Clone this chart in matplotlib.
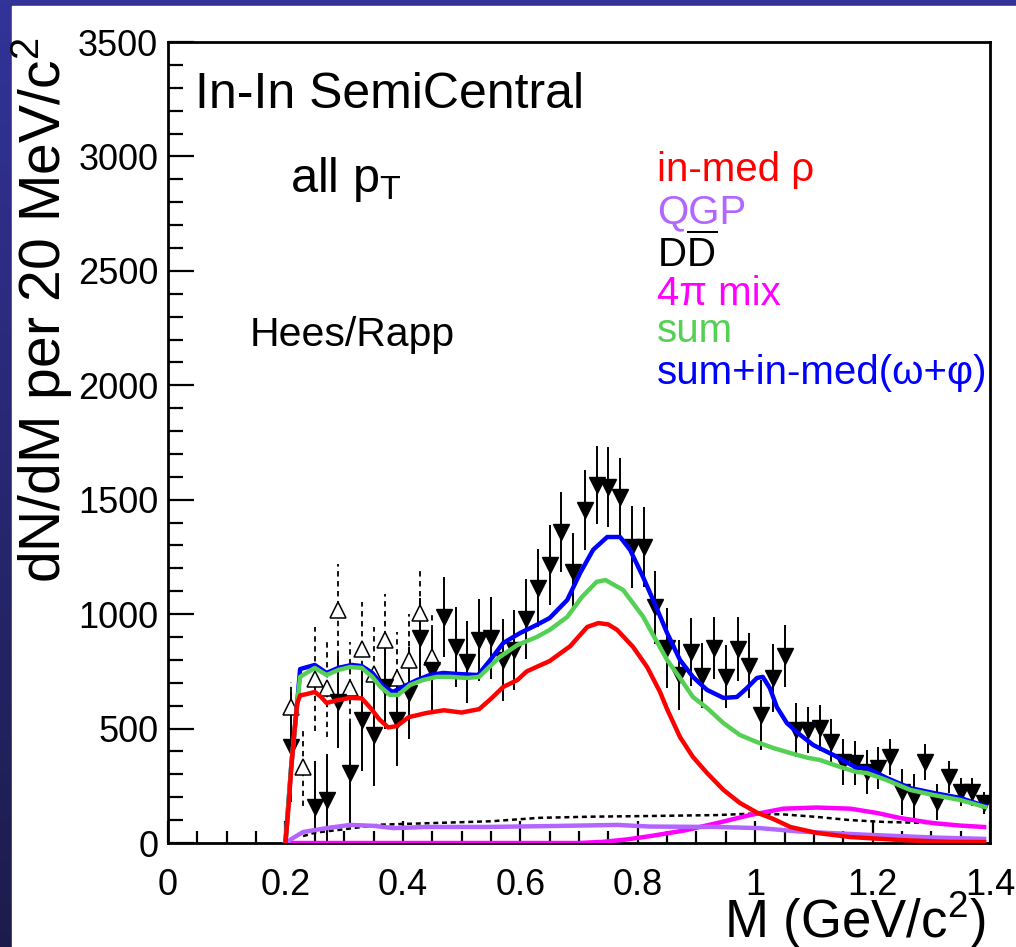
import numpy as np
import matplotlib
matplotlib.use('Agg')
import matplotlib.pyplot as plt
from matplotlib.patches import Rectangle
from matplotlib.colors import LinearSegmentedColormap
from matplotlib.ticker import MultipleLocator, FixedLocator

plt.rcParams['font.family'] = ['Liberation Sans', 'DejaVu Sans']
plt.rcParams['mathtext.fontset'] = 'custom'
plt.rcParams['mathtext.rm'] = 'Liberation Sans'
plt.rcParams['mathtext.it'] = 'Liberation Sans:italic'
plt.rcParams['mathtext.bf'] = 'Liberation Sans:bold'

# NA60 data (filled triangles, solid errors)
data_m = [0.21, 0.25, 0.27, 0.29, 0.31, 0.33, 0.35, 0.37, 0.39, 0.41, 0.43, 0.45, 0.47, 0.49,
          0.51, 0.53, 0.55, 0.57, 0.59, 0.61, 0.63, 0.65, 0.67, 0.69, 0.71, 0.73, 0.75, 0.77,
          0.79, 0.81, 0.83, 0.85, 0.87, 0.89, 0.91, 0.93, 0.95, 0.97, 0.99, 1.01, 1.03, 1.05,
          1.07, 1.09, 1.11, 1.13, 1.15, 1.17, 1.19, 1.21, 1.23, 1.25, 1.27, 1.29, 1.31, 1.33,
          1.35, 1.37, 1.39]
data_v = [420, 157, 188, 616, 306, 538, 472, 682, 538, 656, 896, 756, 988, 857,
          790, 887, 896, 800, 843, 979, 1114, 1215, 1359, 1184, 1455, 1565, 1556, 1512,
          1294, 1294, 1030, 852, 734, 835, 730, 852, 726, 848, 774, 559, 721, 817,
          494, 494, 503, 441, 354, 350, 310, 328, 376, 223, 201, 354, 179, 288,
          223, 223, 175]
data_e = [240, 200, 200, 200, 220, 225, 225, 185, 200, 200, 175, 175, 175, 175,
          180, 180, 180, 180, 175, 175, 170, 175, 175, 170, 175, 170, 175, 170,
          180, 175, 160, 175, 153, 149, 142, 135, 138, 138, 142, 153, 149, 135,
          117, 102, 102, 102, 102, 95, 95, 90, 80, 100, 100, 80, 80, 70,
          60, 60, 50]

# open triangles (dashed errors)
open_m = [0.21, 0.23, 0.25, 0.27, 0.29, 0.31, 0.33, 0.35, 0.37, 0.39, 0.41, 0.43, 0.45]
open_v = [594, 330, 717, 677, 1018, 677, 848, 738, 887, 721, 800, 1005, 813]
open_e = [110, 170, 227, 215, 200, 200, 205, 205, 200, 200, 200, 190, 190]

# in-medium rho
red_m = [0.200, 0.205, 0.210, 0.215, 0.220, 0.225, 0.235, 0.250, 0.260, 0.270, 0.290, 0.310,
         0.330, 0.345, 0.360, 0.375, 0.390, 0.410, 0.440, 0.470, 0.500, 0.530, 0.550, 0.571,
         0.595, 0.611, 0.650, 0.685, 0.714, 0.733, 0.750, 0.765, 0.792, 0.816, 0.838, 0.850,
         0.872, 0.894, 0.918, 0.946, 0.974, 1.003, 1.031, 1.060, 1.105, 1.162, 1.247, 1.330, 1.390]
red_v = [0, 150, 330, 480, 610, 645, 650, 660, 640, 612, 625, 634,
         632, 590, 540, 505, 511, 550, 568, 580, 570, 585, 630, 682,
         712, 750, 795, 860, 944, 961, 955, 931, 857, 769, 660, 585,
         463, 376, 306, 232, 175, 133, 105, 70, 44, 26, 13, 5, 4]

# sum
green_m = [0.200, 0.210, 0.220, 0.225, 0.250, 0.270, 0.290, 0.310, 0.330, 0.348, 0.362, 0.378,
           0.392, 0.412, 0.434, 0.458, 0.480, 0.510, 0.530, 0.565, 0.595, 0.628, 0.650, 0.680,
           0.705, 0.730, 0.745, 0.775, 0.809, 0.826, 0.850, 0.872, 0.894, 0.918, 0.946, 0.974,
           1.003, 1.031, 1.060, 1.090, 1.110, 1.145, 1.173, 1.190, 1.224, 1.264, 1.303, 1.349, 1.392]
green_v = [0, 340, 610, 726, 765, 734, 756, 769, 765, 726, 682, 647,
           647, 690, 712, 726, 726, 721, 726, 813, 865, 900, 931, 988,
           1075, 1141, 1149, 1106, 990, 910, 800, 721, 638, 590, 524, 472,
           441, 415, 393, 372, 363, 332, 310, 306, 275, 232, 210, 188, 157]

# sum + in-medium (omega + phi)
blue_m = [0.200, 0.210, 0.220, 0.225, 0.250, 0.270, 0.290, 0.313, 0.330, 0.348, 0.366, 0.383,
          0.400, 0.424, 0.446, 0.469, 0.497, 0.528, 0.549, 0.571, 0.600, 0.628, 0.650, 0.680,
          0.702, 0.724, 0.748, 0.770, 0.787, 0.809, 0.830, 0.850, 0.872, 0.894, 0.918, 0.946,
          0.969, 0.986, 1.003, 1.013, 1.025, 1.037, 1.054, 1.077, 1.099, 1.133, 1.173, 1.190,
          1.224, 1.264, 1.303, 1.349, 1.392]
blue_v = [0, 340, 610, 760, 778, 743, 765, 778, 773, 743, 686, 660,
          682, 712, 734, 743, 738, 734, 800, 874, 918, 953, 983, 1062,
          1180, 1281, 1337, 1337, 1281, 1163, 1040, 918, 800, 726, 669, 634,
          638, 677, 721, 726, 677, 594, 524, 472, 428, 385, 328, 328,
          284, 240, 219, 197, 161]

# QGP
qgp_m = [0.200, 0.215, 0.230, 0.270, 0.310, 0.350, 0.385, 0.440, 0.500, 0.540, 0.650, 0.765,
         0.820, 0.935, 1.008, 1.077, 1.190, 1.303, 1.390]
qgp_v = [0, 25, 48, 65, 79, 75, 65, 70, 70, 70, 74, 79,
         72, 70, 65, 50, 36, 24, 18]

# 4pi mix
mix_m = [0.200, 0.700, 0.740, 0.780, 0.821, 0.880, 0.935, 0.991, 1.048, 1.105, 1.162, 1.208,
         1.247, 1.303, 1.350, 1.390]
mix_v = [0, 0, 5, 15, 30, 55, 87, 122, 150, 155, 150, 131,
         109, 87, 76, 70]

# open charm (D Dbar)
dd_m = [0.230, 0.250, 0.300, 0.360, 0.450, 0.550, 0.633, 0.720, 0.821, 0.935, 0.991, 1.048,
        1.105, 1.162, 1.220, 1.300, 1.320]
dd_v = [30, 45, 60, 80, 87, 95, 110, 115, 118, 122, 128, 125,
        114, 100, 92, 87, 85]

fig = plt.figure(figsize=(10.16, 9.47), dpi=100)

# navy frame around the slide
bg = fig.add_axes([0, 0, 1, 1], zorder=-10)
grad = np.linspace(0, 1, 256).reshape(-1, 1)
navy = LinearSegmentedColormap.from_list('navy', ['#333399', '#1c1c4c'])
bg.imshow(grad, extent=[0, 1, 0, 1], aspect='auto', cmap=navy)
bg.add_patch(Rectangle((12 / 1016, 0), 1, 1 - 6 / 947, color='white', zorder=2))
bg.set_xlim(0, 1)
bg.set_ylim(0, 1)
bg.axis('off')

ax = fig.add_axes([168 / 1016, 104 / 947, 822 / 1016, 801 / 947])

eb = ax.errorbar(open_m, open_v, yerr=open_e, fmt='^', ms=11.5, mfc='white', mec='black',
                 mew=1.1, ecolor='black', elinewidth=1.3, capsize=0, zorder=3)
eb[2][0].set_linestyle((0, (3, 2.5)))
ax.errorbar(data_m, data_v, yerr=data_e, fmt='v', ms=12, color='black',
            ecolor='black', elinewidth=1.4, capsize=0, zorder=3)

ax.plot(dd_m, dd_v, color='black', lw=1.8, ls=(0, (2, 1.5)), zorder=4)
ax.plot(mix_m, mix_v, color='#ff00ff', lw=3.2, zorder=4)
ax.plot(qgp_m, qgp_v, color='#b266ff', lw=3.2, zorder=5)
ax.plot(blue_m, blue_v, color='#0000ff', lw=3.2, zorder=5)
ax.plot(green_m, green_v, color='#55d055', lw=3.2, zorder=6)
ax.plot(red_m, red_v, color='#ff0000', lw=3.2, zorder=7)

ax.set_xlim(0, 1.4)
ax.set_ylim(0, 3500)
ax.xaxis.set_major_locator(FixedLocator([0, 0.2, 0.4, 0.6, 0.8, 1.0, 1.2, 1.4]))
ax.set_xticklabels(['0', '0.2', '0.4', '0.6', '0.8', '1', '1.2', '1.4'])
ax.xaxis.set_minor_locator(MultipleLocator(0.05))
ax.yaxis.set_major_locator(MultipleLocator(500))
ax.yaxis.set_minor_locator(MultipleLocator(100))
ax.tick_params(which='both', direction='in', top=False, right=False, width=1.6, labelsize=26)
ax.tick_params(axis='y', which='major', length=19, pad=7)
ax.tick_params(axis='y', which='minor', length=11)
ax.tick_params(axis='x', which='major', length=16, pad=18)
ax.tick_params(axis='x', which='minor', length=9)
for s in ax.spines.values():
    s.set_linewidth(2)

ax.set_xlabel(r'M (GeV/c$^{2}$)', fontsize=38, loc='right')
ax.xaxis.set_label_coords(0.994, -0.059)
ax.set_ylabel(r'dN/dM per 20 MeV/c$^{2}$', fontsize=41, loc='top')
ax.yaxis.set_label_coords(-0.113, 1.005)

fig.text(195 / 1016, 1 - 95 / 947, 'In-In SemiCentral', fontsize=36, va='center')
fig.text(290 / 1016, 1 - 180 / 947, r'all p$_{\rm T}$', fontsize=35, va='center')
fig.text(250 / 1016, 1 - 335 / 947, 'Hees/Rapp', fontsize=29.5, va='center')

leg_labels = ['in-med ρ', 'QGP', r'D$\overline{\rm D}$', '4π mix', 'sum', 'sum+in-med(ω+φ)']
leg_colors = ['#ff0000', '#b266ff', 'black', '#ff00ff', '#55d055', '#0000ff']
leg_y = [170, 212, 254, 294, 331, 373]
for lab, col, yy in zip(leg_labels, leg_colors, leg_y):
    fig.text(657 / 1016, 1 - yy / 947, lab, fontsize=29, color=col, va='center')

fig.savefig('out.png', dpi=100)
